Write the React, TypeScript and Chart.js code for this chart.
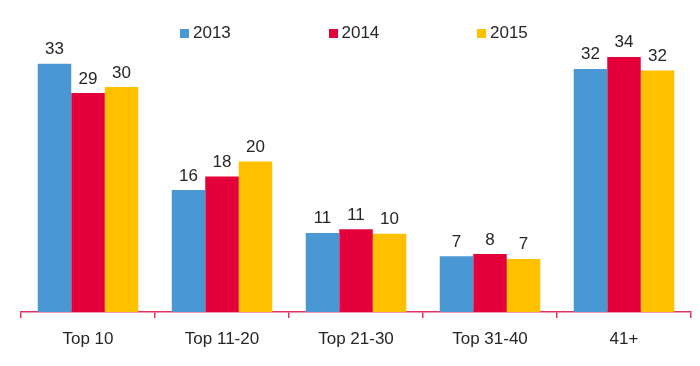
import React, { useEffect, useRef } from "react";
import { Chart, registerables } from "chart.js";

Chart.register(...registerables);

const categories = ["Top 10", "Top 11-20", "Top 21-30", "Top 31-40", "41+"];
const seriesNames = ["2013", "2014", "2015"];
const values2013 = [33, 16.2, 10.5, 7.4, 32.3];
const values2014 = [29.1, 18, 11, 7.7, 33.9];
const values2015 = [29.9, 20, 10.4, 7.05, 32.1];
const seriesColors = ["#4A98D3", "#E4003A", "#FFC000"];
const yMin = 0;
const yMax = 40;

const FONT = "'Liberation Sans', Arial, sans-serif";
const TEXT = "#262626";
const AXIS = "#E2325F";

const dataLabels = {
  id: "dataLabels",
  afterDatasetsDraw(chart: any) {
    const ctx = chart.ctx;
    ctx.save();
    ctx.font = `17px ${FONT}`;
    ctx.fillStyle = TEXT;
    ctx.textAlign = "center";
    ctx.textBaseline = "alphabetic";
    chart.data.datasets.forEach((ds: any, i: number) => {
      const meta = chart.getDatasetMeta(i);
      meta.data.forEach((el: any, j: number) => {
        const v = ds.data[j];
        ctx.fillText(String(Math.round(v)), el.x, el.y - 9.5);
      });
    });
    ctx.restore();
  },
};

export default function App() {
  const ref = useRef<HTMLCanvasElement>(null);
  useEffect(() => {
    if (!ref.current) return;
    const allValues = [values2013, values2014, values2015];
    const chart = new Chart(ref.current, {
      type: "bar",
      data: {
        labels: categories,
        datasets: seriesNames.map((n, i) => ({
          label: n,
          data: allValues[i],
          backgroundColor: seriesColors[i],
          borderWidth: 0,
          categoryPercentage: 0.75,
          barPercentage: 1,
        })),
      },
      options: {
        animation: false,
        responsive: true,
        maintainAspectRatio: false,
        layout: { padding: { top: 3, left: 13, right: 1, bottom: 0 } },
        plugins: {
          legend: { display: false },
          tooltip: { enabled: false },
        },
        scales: {
          x: {
            afterFit: (s: any) => {
              s.height = 46;
            },
            grid: {
              display: true,
              offset: true,
              drawOnChartArea: false,
              drawTicks: true,
              tickLength: 6,
              color: AXIS,
              lineWidth: 1.5,
            },
            border: { display: true, color: AXIS, width: 1.5 },
            ticks: {
              color: TEXT,
              font: { family: FONT, size: 17 },
              padding: 11,
            },
          },
          y: {
            display: false,
            min: yMin,
            max: yMax,
          },
        },
      },
      plugins: [dataLabels],
    });
    return () => chart.destroy();
  }, []);

  return (
    <div style={{ position: "relative", width: 684, height: 350 }}>
      <canvas ref={ref} />
      <div
        style={{
          position: "absolute",
          left: 172,
          top: 15,
          display: "flex",
          fontFamily: FONT,
          fontSize: 17,
          color: TEXT,
          lineHeight: "20px",
        }}
      >
        {seriesNames.map((n, i) => (
          <div key={n} style={{ width: 148.5, display: "flex", alignItems: "center" }}>
            <span
              style={{
                display: "inline-block",
                width: 9,
                height: 9,
                background: seriesColors[i],
                marginRight: 4,
              }}
            />
            <span>{n}</span>
          </div>
        ))}
      </div>
    </div>
  );
}
